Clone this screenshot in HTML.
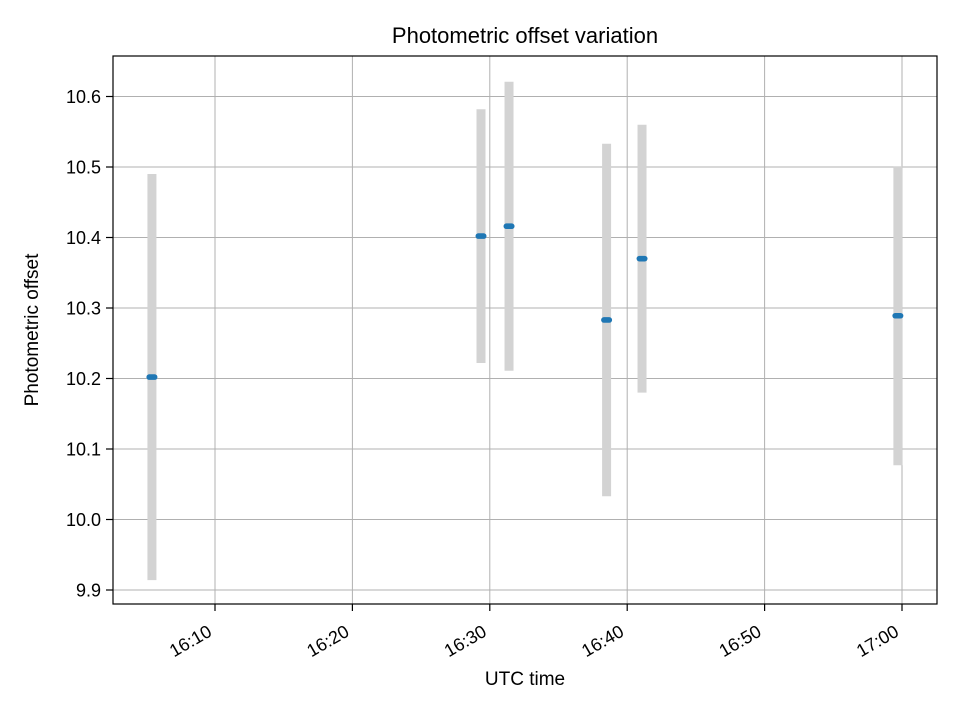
<!DOCTYPE html>
<html><head><meta charset="utf-8"><style>
body{margin:0;background:#fff;}
svg text{font-family:"Liberation Sans","DejaVu Sans",sans-serif;fill:#000;}
</style></head><body>
<svg id="chart" width="960" height="720" xmlns="http://www.w3.org/2000/svg">
<rect width="960" height="720" fill="#fff"/>
<g id="grid"></g>
<g id="bars"></g>
<g id="pts"></g>
<rect x="113" y="56" width="824" height="548" fill="none" stroke="#000" stroke-width="1.2"/>
<g id="axes"></g>
<text x="525" y="43" font-size="22" text-anchor="middle">Photometric offset variation</text>
<text x="525" y="692" font-size="19" text-anchor="middle" dy="-7">UTC time</text>
<text transform="translate(38,330) rotate(-90)" font-size="19" text-anchor="middle">Photometric offset</text>
</svg>
<script>
const times = [5.41, 29.36, 31.4, 38.5, 41.08, 59.7]; // minutes after 16:00
const offsets = [10.202, 10.402, 10.416, 10.283, 10.37, 10.289];
const errors = [0.288, 0.18, 0.205, 0.25, 0.19, 0.212];
const yTicks = [9.9, 10.0, 10.1, 10.2, 10.3, 10.4, 10.5, 10.6];
const xTickMins = [10, 20, 30, 40, 50, 60];
const xTickLabels = ["16:10", "16:20", "16:30", "16:40", "16:50", "17:00"];

const NS = "http://www.w3.org/2000/svg";
function xs(m){return 215 + (m - 10) * 13.74;}
function ys(v){return 590 - (v - 9.9) * 705;}
function mk(tag, attrs, parent){
  const e = document.createElementNS(NS, tag);
  for (const k in attrs) e.setAttribute(k, attrs[k]);
  document.getElementById(parent).appendChild(e);
  return e;
}
yTicks.forEach(function(v){
  const y = ys(v);
  const g = mk("line", {x1:113, x2:937, y1:y, y2:y, stroke:"#b0b0b0", "stroke-width":1}, "grid");
  
  
  const t = mk("line", {x1:106, x2:113, y1:y, y2:y, stroke:"#000", "stroke-width":1.2}, "axes");
  
  
  const l = mk("text", {x:101, y:y + 6.5, "font-size":18, "text-anchor":"end"}, "axes");
  l.textContent = v.toFixed(1);
  
  
});
xTickMins.forEach(function(m, i){
  const x = xs(m);
  const g = mk("line", {x1:x, x2:x, y1:56, y2:604, stroke:"#b0b0b0", "stroke-width":1}, "grid");
  
  
  const t = mk("line", {x1:x, x2:x, y1:604, y2:611, stroke:"#000", "stroke-width":1.2}, "axes");
  
  
  const ax = x - 2, ay = 635;
  const l = mk("text", {x:ax, y:ay, "font-size":18, "text-anchor":"end", transform:"rotate(-30 " + ax + " " + ay + ")"}, "axes");
  l.textContent = xTickLabels[i];
  
  
});
times.forEach(function(m, i){
  const x = xs(m);
  const b = mk("line", {x1:x, x2:x, y1:ys(offsets[i] + errors[i]), y2:ys(offsets[i] - errors[i]), stroke:"#d3d3d3", "stroke-width":9}, "bars");
  
  
  const p = mk("rect", {x:x - 5.5, y:ys(offsets[i]) - 2.8, width:11, height:5.6, rx:2.8, fill:"#1f77b4"}, "pts");
  
  
});
</script>
</body></html>
